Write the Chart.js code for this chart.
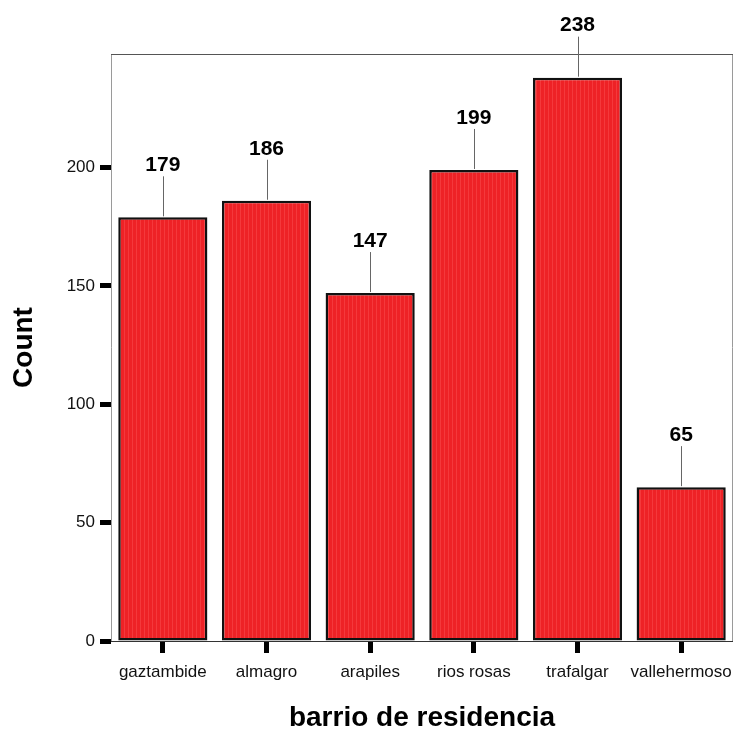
<!DOCTYPE html>
<html>
<head>
<meta charset="utf-8">
<script src="https://cdn.jsdelivr.net/npm/chart.js@4.4.1/dist/chart.umd.min.js"></script>
<style>
  html, body { margin: 0; padding: 0; background: #ffffff; }
  #wrap { width: 738px; height: 731px; position: relative; }
</style>
</head>
<body>
<div id="wrap"><canvas id="c" width="738" height="731"></canvas></div>
<script>
// ---- data ----
const categories = ["gaztambide", "almagro", "arapiles", "rios rosas", "trafalgar", "vallehermoso"];
const counts = [179, 186, 147, 199, 238, 65];
const yTickValues = [0, 50, 100, 150, 200];
const xTitle = "barrio de residencia";
const yTitle = "Count";

const FONT = 'Arial, "Liberation Sans", Helvetica, sans-serif';

// striped red fill similar to the reference
function makePattern() {
  const p = document.createElement('canvas');
  p.width = 4; p.height = 4;
  const g = p.getContext('2d');
  g.fillStyle = '#EE2226'; g.fillRect(0, 0, 4, 4);
  g.fillStyle = '#F4393C'; g.fillRect(0, 0, 1, 4);
  return g.createPattern(p, 'repeat');
}

const framePlugin = {
  id: 'frame',
  beforeDatasetsDraw(chart) {
    const { ctx, chartArea: a } = chart;
    ctx.save();
    ctx.lineWidth = 1;
    ctx.strokeStyle = '#9a9a9a';
    ctx.beginPath();
    ctx.moveTo(a.left + 0.5, a.bottom); ctx.lineTo(a.left + 0.5, a.top + 0.5);
    ctx.moveTo(a.right - 0.5, a.top); ctx.lineTo(a.right - 0.5, a.bottom);
    ctx.stroke();
    ctx.strokeStyle = '#555555';
    ctx.beginPath();
    ctx.moveTo(a.left, a.top + 0.5); ctx.lineTo(a.right, a.top + 0.5);
    ctx.stroke();
    ctx.strokeStyle = '#333333';
    ctx.beginPath();
    ctx.moveTo(a.left, a.bottom + 0.5); ctx.lineTo(a.right, a.bottom + 0.5);
    ctx.stroke();
    ctx.restore();
  }
};

const valueLabelPlugin = {
  id: 'valueLabels',
  afterDatasetsDraw(chart) {
    const { ctx } = chart;
    const meta = chart.getDatasetMeta(0);
    ctx.save();
    meta.data.forEach((bar, i) => {
      const x = Math.round(bar.x) + 0.5;
      const top = bar.y;
      ctx.strokeStyle = '#666666';
      ctx.lineWidth = 1;
      ctx.beginPath();
      ctx.moveTo(x, top - 1);
      ctx.lineTo(x, top - 41);
      ctx.stroke();
      ctx.fillStyle = '#000000';
      ctx.font = 'bold 21px ' + FONT;
      ctx.textAlign = 'center';
      ctx.textBaseline = 'middle';
      ctx.fillText(String(chart.data.datasets[0].data[i]), bar.x, top - 52);
    });
    ctx.restore();
  }
};

new Chart(document.getElementById('c'), {
  type: 'bar',
  data: {
    labels: categories,
    datasets: [{
      data: counts,
      backgroundColor: makePattern(),
      borderColor: '#111111',
      borderWidth: 2.5,
      borderSkipped: false,
      barPercentage: 0.86,
      categoryPercentage: 1.0
    }]
  },
  options: {
    responsive: false,
    animation: false,
    devicePixelRatio: 1,
    layout: { padding: { top: 54, right: 5, left: 0, bottom: 0 } },
    plugins: { legend: { display: false }, tooltip: { enabled: false } },
    scales: {
      x: {
        grid: { display: true, drawOnChartArea: false, offset: false, tickLength: 12, tickWidth: 5, tickColor: '#000000' },
        border: { display: false },
        ticks: { color: '#111111', font: { family: FONT, size: 17 }, padding: 9, maxRotation: 0, autoSkip: false },
        title: { display: true, text: xTitle, color: '#000000', font: { family: FONT, size: 28, weight: 'bold', lineHeight: 0.8 }, padding: { top: 0, bottom: 2 } },
        afterFit(scale) { scale.height = 90; scale.paddingLeft = 0; scale.paddingRight = 0; }
      },
      y: {
        min: 0, max: 248,
        grid: { display: true, drawOnChartArea: false, tickLength: 11, tickWidth: 5, tickColor: '#000000' },
        border: { display: false },
        afterBuildTicks(scale) { scale.ticks = yTickValues.map(v => ({ value: v })); },
        ticks: { color: '#111111', font: { family: FONT, size: 17 }, padding: 5 },
        title: { display: true, text: yTitle, color: '#000000', font: { family: FONT, size: 28, weight: 'bold', lineHeight: 0.8 }, padding: { top: 13, bottom: 0 } },
        afterFit(scale) { scale.width = 111; scale.paddingTop = 0; scale.paddingBottom = 0; }
      }
    }
  },
  plugins: [framePlugin, valueLabelPlugin]
});
</script>
</body>
</html>
